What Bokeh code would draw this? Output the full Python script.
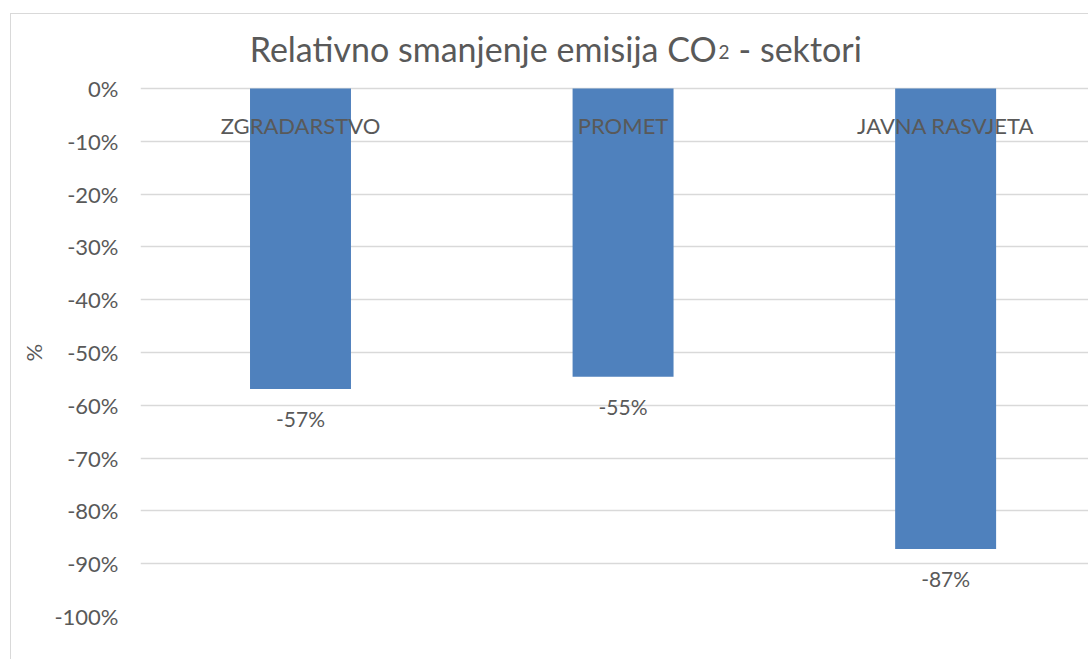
import numpy as np
from bokeh.plotting import figure
from bokeh.models import (ColumnDataSource, LabelSet, Label, FixedTicker,
                          CustomJSTickFormatter, Title)
from bokeh.core.properties import value
from bokeh.embed import file_html
from bokeh.resources import INLINE

categories = ["ZGRADARSTVO", "PROMET", "JAVNA RASVJETA"]
values = [-0.569, -0.546, -0.872]
value_labels = ["-57%", "-55%", "-87%"]
y_ticks = [0, -0.1, -0.2, -0.3, -0.4, -0.5, -0.6, -0.7, -0.8, -0.9, -1.0]
title_parts = ["Relativno smanjenje emisija CO", "2", " - sektori"]
y_axis_title = "%"

FONT = "Lato"
TXT = "#595959"

x = np.arange(len(categories))
src = ColumnDataSource(dict(x=x, top=[0] * len(values), bottom=values,
                            cat=categories, vlab=value_labels,
                            zero=[0] * len(values)))

p = figure(width=1078, height=646, output_backend="svg", toolbar_location=None,
           x_range=(-0.496, 2.446), y_range=(-1.0, 0.1402),
           min_border_left=129, min_border_top=0, min_border_bottom=44, min_border_right=0,
           styles={"margin-left": "10px", "margin-top": "13px",
                   "border-left": "1px solid #d9d9d9", "border-top": "1px solid #d9d9d9"})
p.outline_line_color = None
p.xaxis.visible = False
p.xgrid.visible = False
p.ygrid.grid_line_color = "#d9d9d9"
p.ygrid.grid_line_width = 1.4

p.yaxis.ticker = FixedTicker(ticks=y_ticks)
p.yaxis.formatter = CustomJSTickFormatter(code="return Math.round(tick*100) + '%';")
p.yaxis.axis_line_color = None
p.yaxis.major_tick_line_color = None
p.yaxis.minor_tick_line_color = None
p.yaxis.major_label_standoff = 16
p.yaxis.major_label_text_font = FONT
p.yaxis.major_label_text_font_size = "22px"
p.yaxis.major_label_text_color = TXT

# y-axis title, placed on the left side next to the axis
yt = Title(text=y_axis_title, align="left", offset=255, vertical_align="middle",
           text_font=FONT, text_font_size="22px", text_font_style="normal",
           text_color=TXT, standoff=8)
p.add_layout(yt, "left")

p.vbar(x="x", top="top", bottom="bottom", width=0.313, source=src,
       fill_color="#4f81bd", line_color=None)

cat_labels = LabelSet(x="x", y="zero", text="cat", source=src, y_offset=-37,
                      text_align="center", text_baseline="middle",
                      text_font=value(FONT), text_font_size="22px", text_color=TXT)
p.add_layout(cat_labels)

val_labels = LabelSet(x="x", y="bottom", text="vlab", source=src, y_offset=-30,
                      text_align="center", text_baseline="middle",
                      text_font=value(FONT), text_font_size="21px", text_color=TXT)
p.add_layout(val_labels)

# title in three pieces so that the "2" is smaller
ty = 0.076
t1 = Label(x=1.290, y=ty, text=title_parts[0], text_align="right",
           text_baseline="middle", text_font=FONT, text_font_size="34px",
           text_color=TXT)
t2 = Label(x=1.290, y=ty, text=title_parts[1], text_align="left", x_offset=2, y_offset=-4,
           text_baseline="middle", text_font=FONT, text_font_size="19px",
           text_color=TXT)
t3 = Label(x=1.290, y=ty, text=title_parts[2], text_align="left", x_offset=22,
           text_baseline="middle", text_font=FONT, text_font_size="34px",
           text_color=TXT)
for t in (t1, t2, t3):
    p.add_layout(t)

open("out.html", "w").write(file_html(p, INLINE))
